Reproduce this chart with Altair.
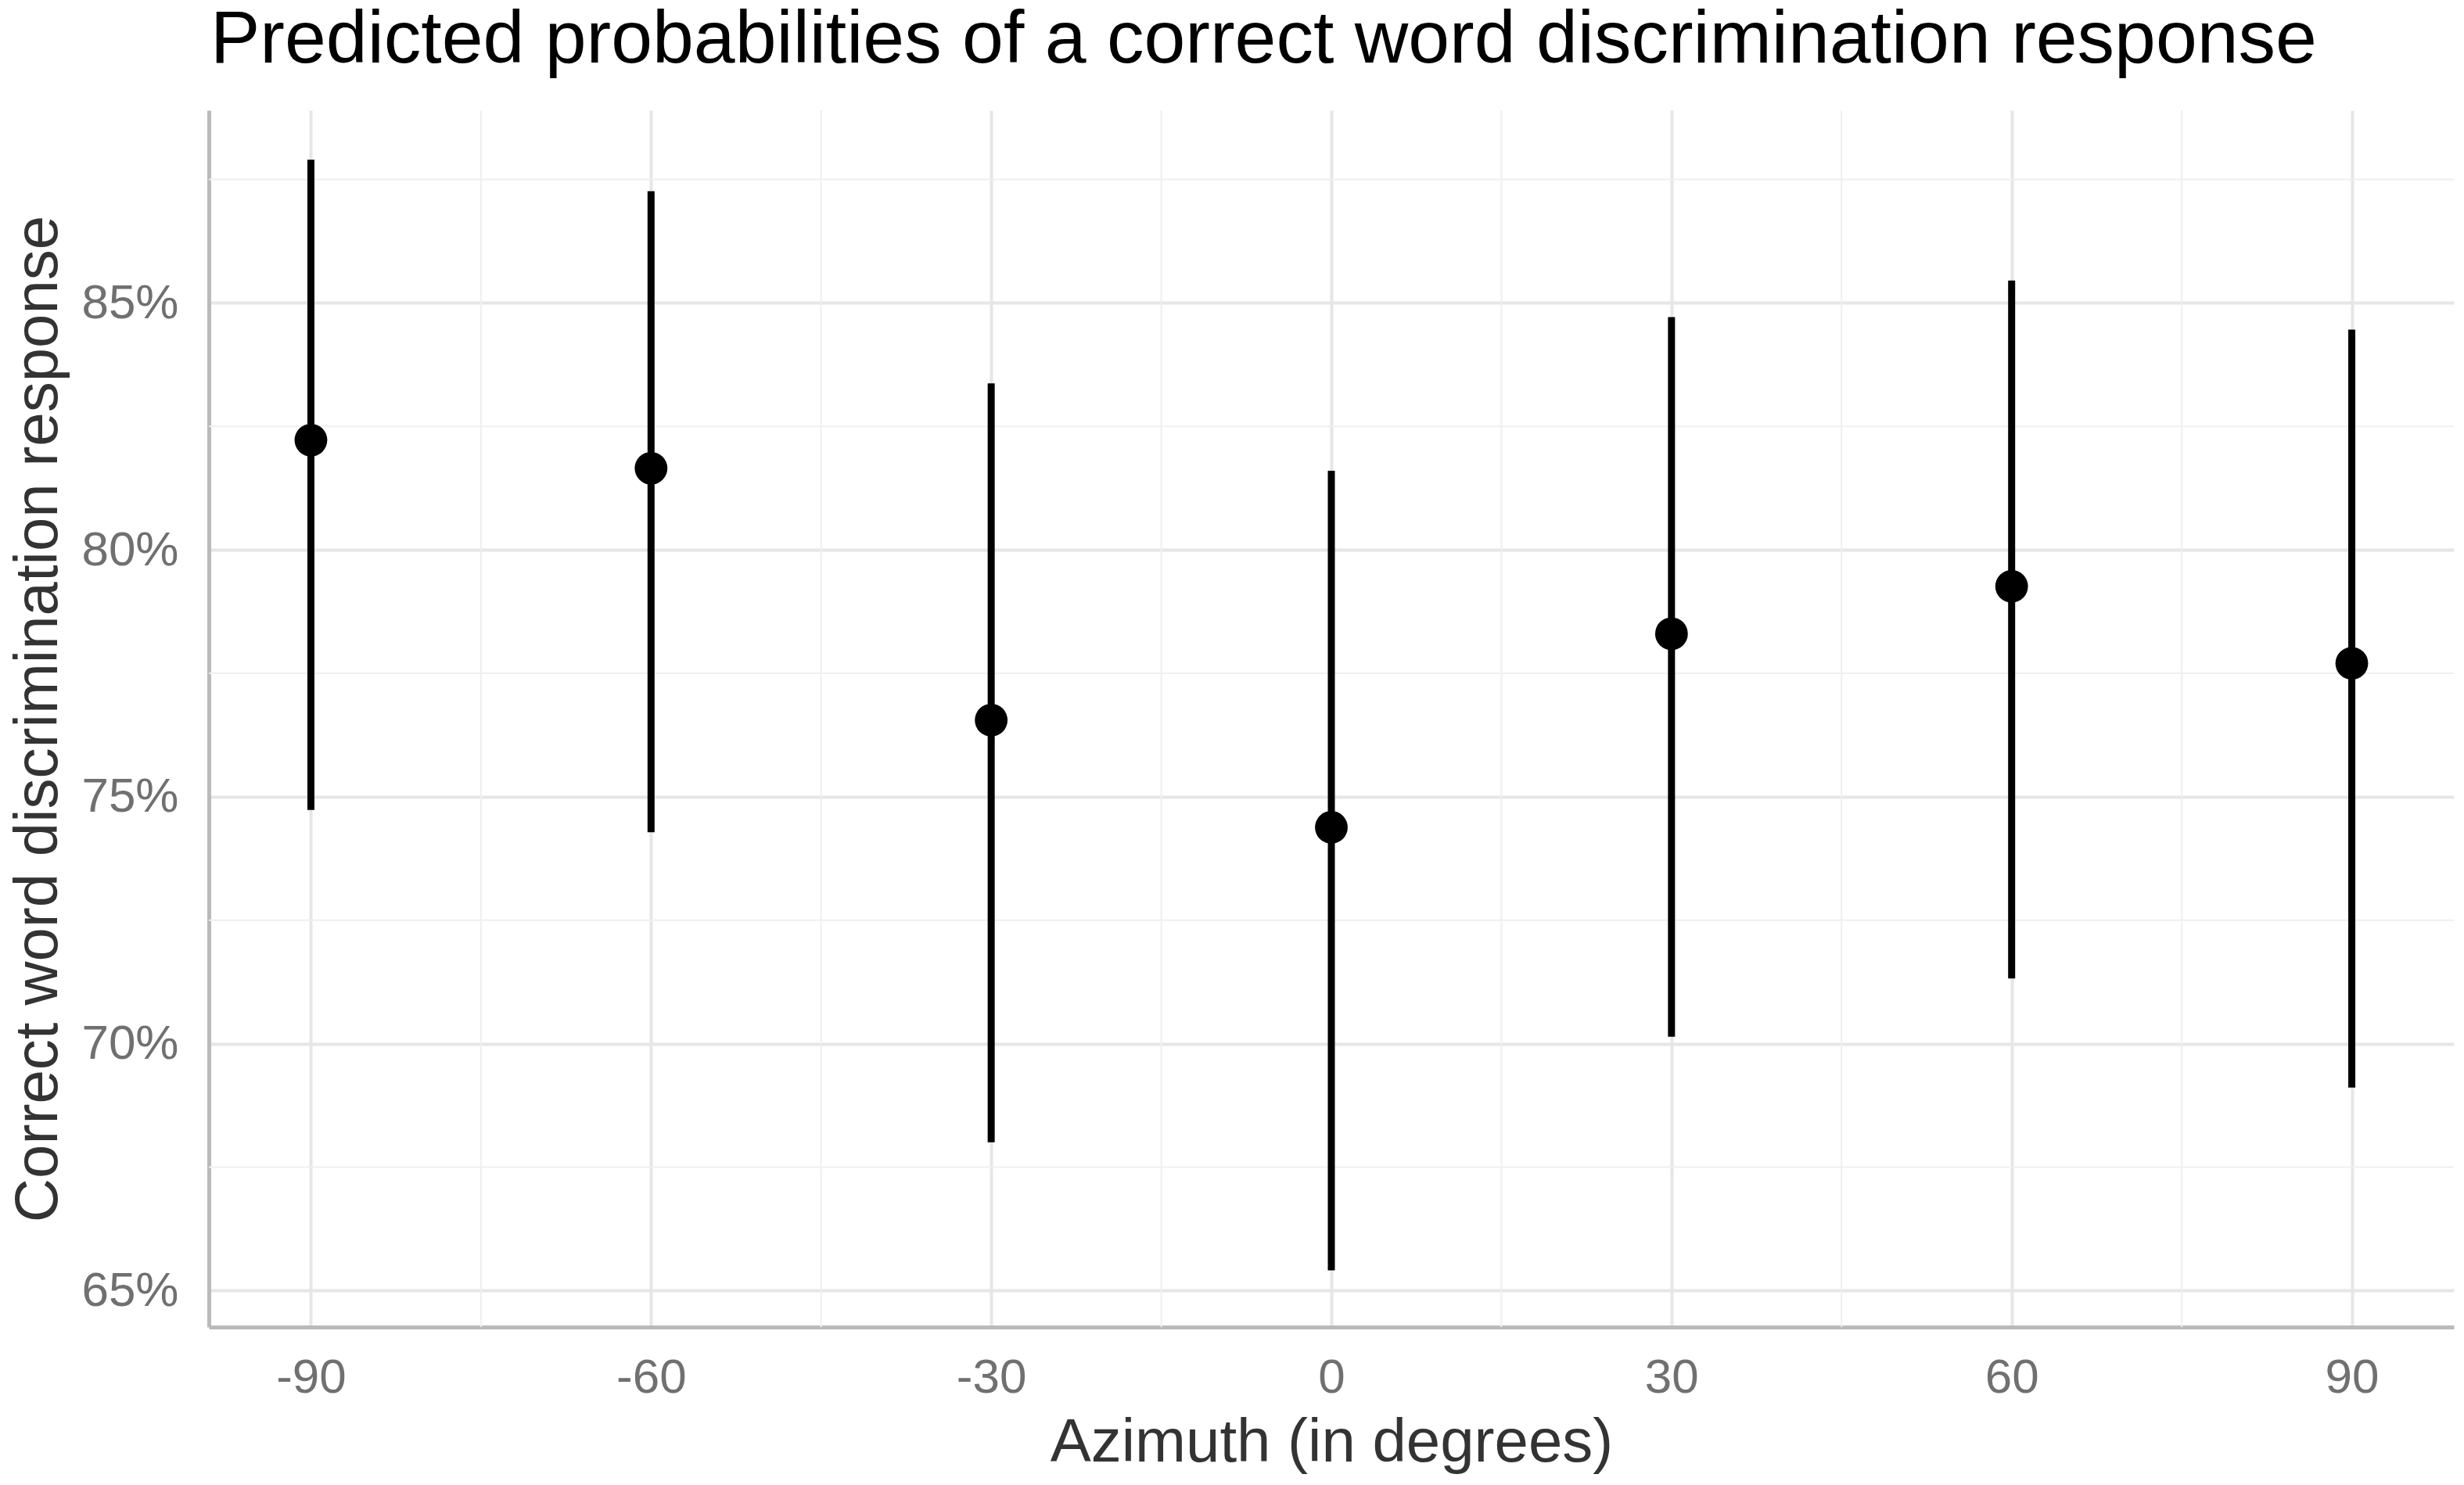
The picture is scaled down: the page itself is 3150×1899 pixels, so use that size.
import altair as alt
import pandas as pd

# Data
azimuth = [-90, -60, -30, 0, 30, 60, 90]
prob = [0.8222, 0.8165, 0.7655, 0.7438, 0.7830, 0.7926, 0.7770]
lower = [0.7473, 0.7428, 0.6800, 0.6541, 0.7014, 0.7132, 0.6911]
upper = [0.8790, 0.8726, 0.8337, 0.8160, 0.8471, 0.8545, 0.8446]

x_ticks = [-90, -60, -30, 0, 30, 60, 90]
y_ticks = [0.65, 0.70, 0.75, 0.80, 0.85]
x_minor = [-75, -45, -15, 15, 45, 75]
y_minor = [0.675, 0.725, 0.775, 0.825, 0.875]

title_text = ["Predicted probabilities of a correct word discrimination response"]

df = pd.DataFrame({"azimuth": azimuth, "prob": prob, "lower": lower, "upper": upper})
dfx = pd.DataFrame({"xm": x_minor})
dfy = pd.DataFrame({"ym": y_minor})
dft = pd.DataFrame({"t": title_text})

FONT = "Liberation Sans"
W, H = 2870, 1556

xscale = alt.Scale(domain=[-99, 99], nice=False, zero=False)
yscale = alt.Scale(domain=[0.6426, 0.889], nice=False, zero=False)

minor_x = alt.Chart(dfx).mark_rule(color="#efefef", strokeWidth=2).encode(
    x=alt.X("xm:Q", scale=xscale)
)
minor_y = alt.Chart(dfy).mark_rule(color="#efefef", strokeWidth=2).encode(
    y=alt.Y("ym:Q", scale=yscale)
)

xaxis = alt.Axis(
    values=x_ticks, title="Azimuth (in degrees)", grid=True, gridColor="#e6e6e6",
    gridWidth=4, domain=True, domainColor="#bababa", domainWidth=5, ticks=False,
    tickSize=0, labelFont=FONT, labelFontSize=62, labelColor="#707070",
    labelBaseline="alphabetic", labelPadding=83, labelFlush=False,
    labelExpr="'' + datum.value",
    titleFont=FONT, titleFontSize=78, titleFontWeight="normal", titleColor="#333333",
    titleX=W / 2, titleY=171, titleBaseline="alphabetic", titleAlign="center",
)
yaxis = alt.Axis(
    values=y_ticks, format=".0%", title="Correct word discrimination response",
    grid=True, gridColor="#e6e6e6", gridWidth=4, domain=True, domainColor="#bababa",
    domainWidth=5, ticks=False, tickSize=0, labelFont=FONT, labelFontSize=62,
    labelColor="#707070", labelPadding=39, labelBaseline="middle", labelFlush=False,
    titleFont=FONT, titleFontSize=78, titleFontWeight="normal", titleColor="#333333",
    titleX=-195, titleY=H / 2, titleAngle=-90, titleBaseline="alphabetic",
    titleAlign="center",
)

bars = alt.Chart(df).mark_rule(color="black", strokeWidth=9).encode(
    x=alt.X("azimuth:Q", scale=xscale, axis=xaxis),
    y=alt.Y("lower:Q", scale=yscale, axis=yaxis),
    y2="upper:Q",
)
points = alt.Chart(df).mark_circle(color="black", opacity=1, size=1750).encode(
    x=alt.X("azimuth:Q", scale=xscale),
    y=alt.Y("prob:Q", scale=yscale),
)
title = alt.Chart(dft).mark_text(
    font=FONT, fontSize=95, color="black", align="left", baseline="alphabetic"
).encode(text="t:N", x=alt.value(2), y=alt.value(-61))

chart = (
    alt.layer(minor_x, minor_y, bars, points, title)
    .properties(
        width=W,
        height=H,
        autosize=alt.AutoSizeParams(type="none"),
        padding={"left": 259, "top": 133, "right": 5, "bottom": 190},
        background="white",
    )
    .configure_view(stroke=None)
)

chart.save("out.html", embed_options={"renderer": "svg", "actions": False})
